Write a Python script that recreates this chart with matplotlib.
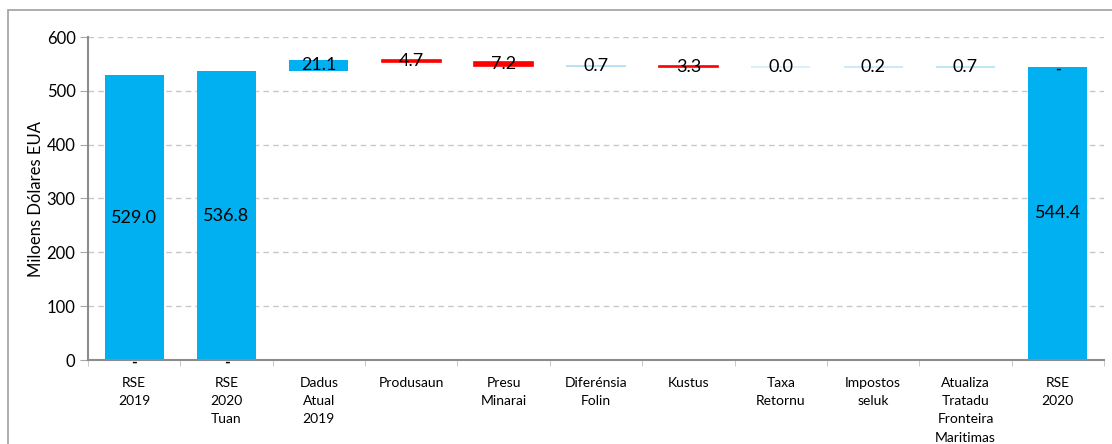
import numpy as np
import matplotlib
matplotlib.use("Agg")
import matplotlib.pyplot as plt
from matplotlib.patches import Rectangle

plt.rcParams['font.family'] = ['Lato', 'DejaVu Sans']

# --- dados ---
categories = ["RSE\n2019", "RSE\n2020\nTuan", "Dadus\nAtual\n2019", "Produsaun",
              "Presu\nMinarai", "Diferénsia\nFolin", "Kustus", "Taxa\nRetornu",
              "Impostos\nseluk", "Atualiza\nTratadu\nFronteira\nMaritimas", "RSE\n2020"]
rse_2019 = 529.0
rse_2020_tuan = 536.8
deltas = [21.1, -4.7, -7.2, 0.7, -3.3, 0.0, 0.2, 0.7]
rse_2020 = 544.4
delta_colors = ["#00b0f0", "#ff0000", "#ff0000", "#a9def4", "#ff0000", "#d4eef9", "#c2e8f7", "#b0e1f5"]

blue = "#00b0f0"

fig = plt.figure(figsize=(11.12, 4.44), dpi=100)
ax = fig.add_axes([88 / 1112, 1 - 360 / 444, (1104 - 88) / 1112, (360 - 37) / 444])

x = np.arange(len(categories))
w = 0.64

# barras totais
totals_idx = [0, 1, len(categories) - 1]
totals_val = [rse_2019, rse_2020_tuan, rse_2020]
ax.bar(totals_idx, totals_val, width=w, color=blue, zorder=2)
for i, v in zip(totals_idx, totals_val):
    ax.text(i, v / 2, "%.1f" % v, ha="center", va="center", fontsize=13, zorder=4)

# barras flutuantes
running = rse_2020_tuan
for k, d in enumerate(deltas):
    i = k + 2
    bottom = running if d >= 0 else running + d
    h = abs(d)
    c = delta_colors[k]
    ax.bar(i, h, bottom=bottom, width=w, color=c, edgecolor=c,
           linewidth=1.2 if h < 10 else 0, zorder=2)
    ax.text(i, bottom + h / 2, "%.1f" % h, ha="center", va="center", fontsize=13, zorder=4)
    running += d

# marcas "-"
for i, v in zip(totals_idx, [0, 0, rse_2020]):
    ax.annotate("-", (i, v), xytext=(0, -2), textcoords="offset points",
                ha="center", va="center", fontsize=11, fontweight="bold",
                zorder=5, annotation_clip=False)

ax.set_xlim(-0.5, len(categories) - 0.5)
ax.set_ylim(0, 600)
ax.set_yticks(np.arange(0, 601, 100))
ax.set_xticks(x)
ax.set_xticklabels(categories, fontsize=10, linespacing=1.63, va="top")
ax.set_xticks(np.arange(-0.5, len(categories), 1), minor=True)
ax.tick_params(axis="x", which="major", length=0, pad=12)
ax.tick_params(axis="x", which="minor", length=4, color="#bfbfbf", direction="out")
ax.tick_params(axis="y", labelsize=12, length=6, color="#a6a6a6", pad=3)

ax.yaxis.grid(True, linestyle=(0, (4, 3)), color="#c8c8c8", linewidth=1)
ax.set_axisbelow(True)
for s in ["top", "right"]:
    ax.spines[s].set_visible(False)
ax.spines["left"].set_color("#8c8c8c")
ax.spines["left"].set_linewidth(1.5)
ax.spines["bottom"].set_color("#8c8c8c")
ax.spines["bottom"].set_linewidth(1.5)

ax.set_ylabel("Miloens Dólares EUA", fontsize=12, labelpad=2)

# moldura exterior
fig.add_artist(Rectangle((8 / 1112, -0.2), 1.2, 1.2 + (1 - 10 / 444) - 1,
                         transform=fig.transFigure, fill=False,
                         edgecolor="#a0a0a0", linewidth=1.2, clip_on=False))

fig.savefig("out.png", dpi=100)
